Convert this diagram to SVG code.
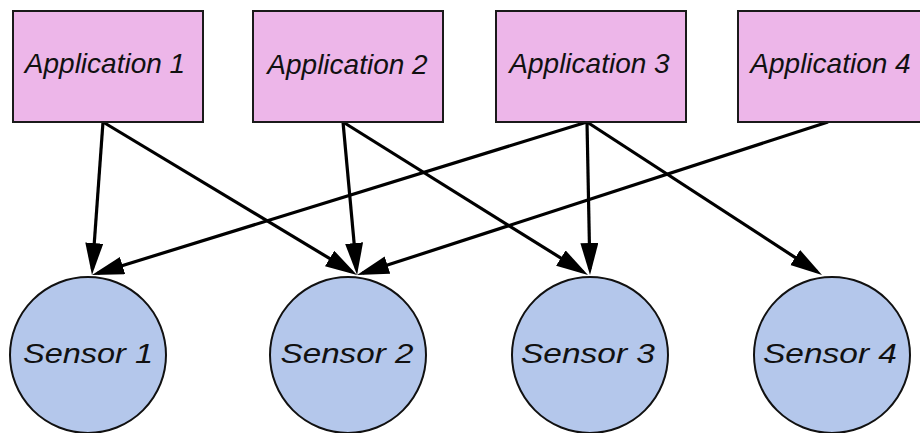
<svg xmlns="http://www.w3.org/2000/svg" width="920" height="433" viewBox="0 0 920 433">
<style>
.app{fill:#EDB6E9;stroke:#1a1a1a;stroke-width:2}
.sen{fill:#B4C7EB;stroke:#111;stroke-width:2}
.lbl{font-family:"Liberation Sans",Arial,sans-serif;font-style:italic;font-size:28px;fill:#111;text-anchor:middle}
.slbl{font-family:"Liberation Sans",Arial,sans-serif;font-style:italic;font-size:28px;fill:#111;text-anchor:middle}
.edge{stroke:#000;stroke-width:3.2;fill:none;marker-end:url(#ah)}
</style>
<defs>
<marker id="ah" markerUnits="userSpaceOnUse" markerWidth="34" markerHeight="20" refX="26" refY="9" orient="auto" viewBox="0 0 34 20">
<path d="M0,0 L32,9 L0,18 z" fill="#000"/>
</marker>
</defs>
<rect width="920" height="433" fill="#fff"/>
<g id="connectors">
<line class="edge" x1="103" y1="122" x2="92.4" y2="269"/>
<line class="edge" x1="103" y1="122" x2="351.9" y2="271.9"/>
<line class="edge" x1="343" y1="122" x2="356.5" y2="269"/>
<line class="edge" x1="343" y1="122" x2="582.9" y2="271.8"/>
<line class="edge" x1="587" y1="122" x2="97.7" y2="273.2"/>
<line class="edge" x1="587" y1="122" x2="589.9" y2="269"/>
<line class="edge" x1="587" y1="122" x2="817" y2="271.7"/>
<line class="edge" x1="828" y1="122" x2="362.7" y2="273.1"/>
</g>
<g id="app1"><rect class="app" x="13" y="11" width="190" height="111"/><text class="lbl" x="105" y="73">Application 1</text></g>
<g id="app2"><rect class="app" x="253" y="11" width="190" height="111"/><text class="lbl" x="347.5" y="74">Application 2</text></g>
<g id="app3"><rect class="app" x="496" y="11" width="190" height="111"/><text class="lbl" x="589.5" y="73">Application 3</text></g>
<g id="app4"><rect class="app" x="738" y="11" width="190" height="111"/><text class="lbl" x="830.5" y="73">Application 4</text></g>
<g id="sensor1"><circle class="sen" cx="88" cy="355" r="78"/><text class="slbl" x="88" y="363" textLength="130" lengthAdjust="spacingAndGlyphs">Sensor 1</text></g>
<g id="sensor2"><circle class="sen" cx="348" cy="355" r="78"/><text class="slbl" x="347" y="363" textLength="133" lengthAdjust="spacingAndGlyphs">Sensor 2</text></g>
<g id="sensor3"><circle class="sen" cx="590" cy="355" r="78"/><text class="slbl" x="588" y="363" textLength="134" lengthAdjust="spacingAndGlyphs">Sensor 3</text></g>
<g id="sensor4"><circle class="sen" cx="832" cy="355" r="78"/><text class="slbl" x="830" y="363" textLength="134" lengthAdjust="spacingAndGlyphs">Sensor 4</text></g>
</svg>
